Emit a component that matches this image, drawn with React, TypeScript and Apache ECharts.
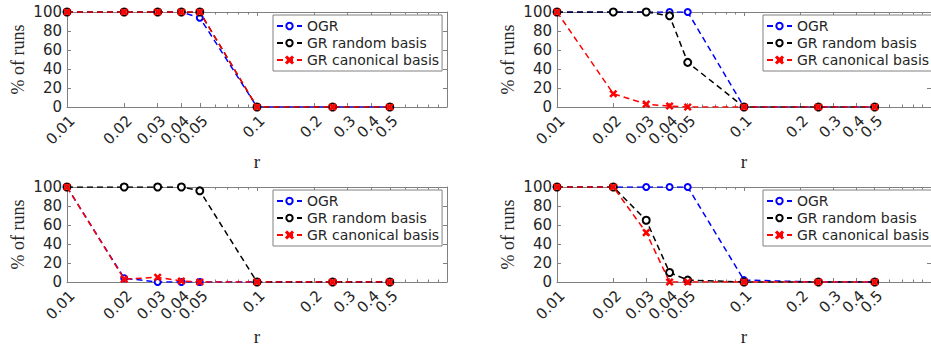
import React, { useEffect, useRef } from "react";
import * as echarts from "echarts";

// r values at which the runs were measured (log-scaled x axis)
const rValues = [0.01, 0.02, 0.03, 0.04, 0.05, 0.1, 0.25, 0.5];
const majorTicks = [0.01, 0.02, 0.03, 0.04, 0.05, 0.1, 0.2, 0.3, 0.4, 0.5];
const minorTicks = [0.06, 0.07, 0.08, 0.09, 0.6, 0.7, 0.8, 0.9];
// labels drawn on a second axis so that ECharts' min/max overlap check keeps them all
const secondaryLabels = [0.4];
const yTicksInterval = 20;

const seriesNames = ["OGR", "GR random basis", "GR canonical basis"];

// panel: top-left
const tlOGR = [100, 100, 100, 100, 94, 0, 0, 0];
const tlRandom = [100, 100, 100, 100, 100, 0, 0, 0];
const tlCanonical = [100, 100, 100, 100, 100, 0, 0, 0];
// panel: top-right
const trOGR = [100, 100, 100, 100, 100, 0, 0, 0];
const trRandom = [100, 100, 100, 96, 47, 0, 0, 0];
const trCanonical = [100, 14, 3, 1, 0, 0, 0, 0];
// panel: bottom-left
const blOGR = [100, 4, 0, 0, 0, 0, 0, 0];
const blRandom = [100, 100, 100, 100, 96, 0, 0, 0];
const blCanonical = [100, 3, 5, 1, 0, 0, 0, 0];
// panel: bottom-right
const brOGR = [100, 100, 100, 100, 100, 2, 0, 0];
const brRandom = [100, 100, 65, 10, 2, 0, 0, 0];
const brCanonical = [100, 100, 52, 0, 0, 0, 0, 0];

const panels = [
  [tlOGR, tlRandom, tlCanonical],
  [trOGR, trRandom, trCanonical],
  [blOGR, blRandom, blCanonical],
  [brOGR, brRandom, brCanonical],
];

const gridBoxes = [
  { left: 67, top: 12, width: 380, height: 95 },
  { left: 557, top: 12, width: 382, height: 95 },
  { left: 67, top: 187, width: 380, height: 95 },
  { left: 557, top: 187, width: 382, height: 95 },
];

const axisColor = "#808080";
const textColor = "#262626";
const sansFont = "DejaVu Sans";
const serifFont = "Liberation Serif";
const xPath =
  "path://M1.2,0 L5,3.8 L8.8,0 L10,1.2 L6.2,5 L10,8.8 L8.8,10 L5,6.2 L1.2,10 L0,8.8 L3.8,5 L0,1.2 Z";

const seriesStyles = [
  { color: "#0000ff", symbol: "emptyCircle", symbolSize: 6 },
  { color: "#000000", symbol: "emptyCircle", symbolSize: 7 },
  { color: "#ff0000", symbol: xPath, symbolSize: 6 },
];

const fmt = (v: number) => String(+Number(v).toPrecision(3));

function buildOption() {
  const grid: any[] = [];
  const xAxis: any[] = [];
  const yAxis: any[] = [];
  const series: any[] = [];
  const legend: any[] = [];

  const labelStyle = {
    show: true,
    rotate: 45,
    formatter: (v: number) => fmt(v),
    fontSize: 15,
    fontFamily: sansFont,
    color: textColor,
    margin: 6,
    verticalAlign: "top",
    hideOverlap: false,
    showMinLabel: true,
    showMaxLabel: true,
  };
  const primaryLabels = majorTicks.filter((v) => !secondaryLabels.includes(v));

  gridBoxes.forEach((g, i) => {
    grid.push({ ...g, containLabel: false });
    const base = {
      type: "log",
      logBase: 10,
      min: 0.01,
      max: 1,
      gridIndex: i,
      splitLine: { show: false },
      minorTick: { show: false },
      minorSplitLine: { show: false },
    };
    // bottom major (labels + name)
    xAxis.push({
      ...base,
      position: "bottom",
      axisLine: { show: true, lineStyle: { color: axisColor, width: 1 } },
      axisTick: { show: true, inside: true, length: 4, customValues: majorTicks, lineStyle: { color: axisColor } },
      axisLabel: { ...labelStyle, customValues: primaryLabels },
      name: "r",
      nameLocation: "middle",
      nameGap: 45,
      nameTextStyle: { fontFamily: serifFont, fontSize: 19, color: textColor },
    });
    // bottom minor ticks + remaining label
    xAxis.push({
      ...base,
      position: "bottom",
      axisLine: { show: false },
      axisTick: { show: true, inside: true, length: 2.5, customValues: minorTicks, lineStyle: { color: axisColor } },
      axisLabel: { ...labelStyle, customValues: secondaryLabels },
    });
    // top major
    xAxis.push({
      ...base,
      position: "top",
      axisLine: { show: true, lineStyle: { color: axisColor, width: 1 } },
      axisTick: { show: true, inside: true, length: 4, customValues: majorTicks, lineStyle: { color: axisColor } },
      axisLabel: { show: false },
    });
    // top minor
    xAxis.push({
      ...base,
      position: "top",
      axisLine: { show: false },
      axisTick: { show: true, inside: true, length: 2.5, customValues: minorTicks, lineStyle: { color: axisColor } },
      axisLabel: { show: false },
    });

    yAxis.push({
      type: "value",
      gridIndex: i,
      min: 0,
      max: 100,
      interval: yTicksInterval,
      position: "left",
      axisLine: { show: true, lineStyle: { color: axisColor, width: 1 } },
      axisTick: { show: true, inside: true, length: 4, lineStyle: { color: axisColor } },
      axisLabel: { fontSize: 15, fontFamily: sansFont, color: textColor, margin: 5 },
      splitLine: { show: false },
      name: "% of runs",
      nameLocation: "middle",
      nameRotate: 90,
      nameGap: 40,
      nameTextStyle: { fontFamily: serifFont, fontSize: 18, color: textColor },
    });
    yAxis.push({
      type: "value",
      gridIndex: i,
      min: 0,
      max: 100,
      interval: yTicksInterval,
      position: "right",
      axisLine: { show: true, lineStyle: { color: axisColor, width: 1 } },
      axisTick: { show: true, inside: true, length: 4, lineStyle: { color: axisColor } },
      axisLabel: { show: false },
      splitLine: { show: false },
    });

    panels[i].forEach((vals, s) => {
      const st = seriesStyles[s];
      series.push({
        type: "line",
        name: seriesNames[s],
        xAxisIndex: i * 4,
        yAxisIndex: i * 2,
        data: rValues.map((r, k) => [r, vals[k]]),
        symbol: st.symbol,
        symbolSize: st.symbolSize,
        showAllSymbol: true,
        z: 2 + s,
        lineStyle: { color: st.color, width: 1.5, type: [6, 4] },
        itemStyle: { color: st.color, borderColor: st.color, borderWidth: 1.5 },
      });
    });

    legend.push({
      show: true,
      orient: "vertical",
      left: g.left + 206,
      top: g.top + 3,
      data: seriesNames,
      itemWidth: 25,
      itemHeight: 8,
      itemGap: 3,
      padding: [4, 3, 4, 3],
      borderColor: axisColor,
      borderWidth: 1,
      borderRadius: 0,
      backgroundColor: "#ffffff",
      selectedMode: false,
      textStyle: { fontSize: 14, fontFamily: sansFont, color: textColor, lineHeight: 14 },
    });
  });

  return {
    animation: false,
    backgroundColor: "#ffffff",
    grid,
    xAxis,
    yAxis,
    series,
    legend,
  };
}

export default function App() {
  const ref = useRef<HTMLDivElement>(null);
  useEffect(() => {
    if (!ref.current) return;
    const chart = echarts.init(ref.current, undefined, { renderer: "svg" });
    chart.setOption(buildOption() as any);
    return () => chart.dispose();
  }, []);
  return (
    <div
      ref={ref}
      style={{ position: "absolute", left: 0, top: 0, width: 931, height: 347, background: "#fff" }}
    />
  );
}
